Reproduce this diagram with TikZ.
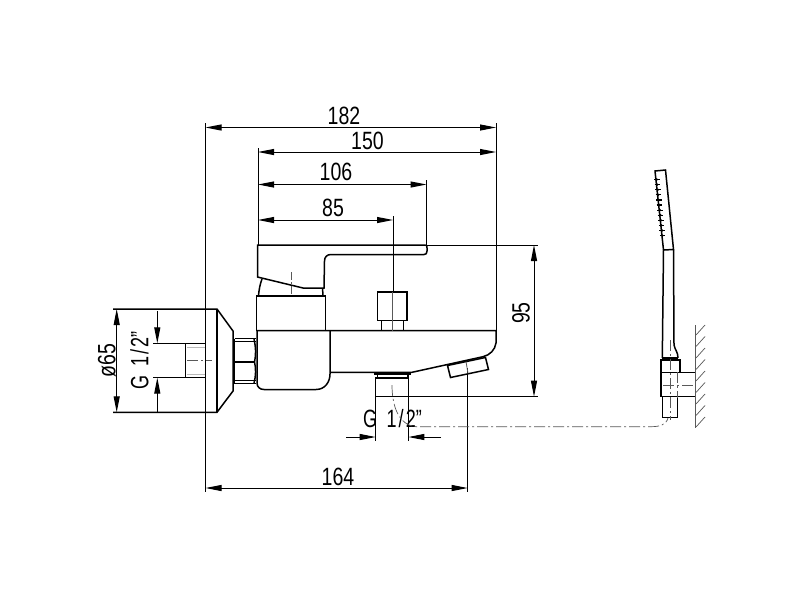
\documentclass[tikz,border=0pt]{standalone}
\usepackage{fontspec}
\setmainfont{Liberation Sans}
\usetikzlibrary{arrows.meta}
\definecolor{cgray}{gray}{0.35}
\newcommand{\dm}[1]{\scalebox{0.78}[1]{\fontsize{25}{25}\selectfont #1}}
\newcommand{\gthread}{\scalebox{0.72}[1]{\fontsize{25}{25}\selectfont G\hspace{13pt}1\hspace{3pt}/\hspace{3pt}2”}}
\tikzset{
  x=1pt,y=-1pt,
  outline/.style={line width=1.5pt,black,line join=miter},
  heavy/.style={line width=2.2pt,black},
  thin line/.style={line width=1pt,black},
  dimline/.style={line width=1pt,black,{Triangle[length=16pt,width=6pt]}-{Triangle[length=16pt,width=6pt]}},
  onehead/.style={line width=1pt,black,-{Triangle[length=16pt,width=6pt]}},
  centre/.style={line width=.7pt,cgray,dash pattern=on 11pt off 3pt on 2pt off 3pt},
  lightline/.style={line width=.8pt,gray!55},
  hatchline/.style={line width=.7pt,black!65},
  dimtext/.style={inner sep=0pt,black}
}
\begin{document}
\begin{tikzpicture}
\useasboundingbox[fill=white] (0,0) rectangle (800,600);
% extension lines
\draw[thin line] (205.5,123) -- (205.5,492);
\draw[thin line] (496,123) -- (496,330);
\draw[thin line] (258,148) -- (258,245);
\draw[thin line] (426.5,180) -- (426.5,245);
\draw[thin line] (393,216) -- (393,292);
\draw[thin line] (427,245) -- (538,245);
\draw[thin line] (408.5,396.7) -- (538,396.7);
\draw[thin line] (467.7,368) -- (467.7,492);
% dimensions
\draw[dimline] (205.5,127.5) -- (496,127.5);
\draw[dimline] (258,152) -- (496,152);
\draw[dimline] (258,184.5) -- (426.5,184.5);
\draw[dimline] (258,220) -- (393,220);
\draw[dimline] (205.5,488) -- (467.7,488);
\draw[dimline] (534,245) -- (534,396.7);
\draw[dimline] (116.7,309) -- (116.7,412.3);
\coordinate (gat) at (157.3,311);
\coordinate (gab) at (157.3,343.3);
\coordinate (gbt) at (157.3,377.7);
\coordinate (gbb) at (157.3,412);
\draw[onehead] (gat) -- (gab);
\draw[onehead] (gbb) -- (gbt);
\coordinate (hl) at (346,437);
\coordinate (hla) at (375.7,437);
\coordinate (hr) at (441,437);
\coordinate (hra) at (408.3,437);
\draw[onehead] (hl) -- (hla);
\draw[onehead] (hr) -- (hra);
\draw[thin line] (375.7,396) -- (375.7,441);
\draw[thin line] (408.3,396) -- (408.3,441);
% texts
\node[dimtext] (t182) at (344,116) {\dm{182}};
\node[dimtext] (t150) at (367.5,141) {\dm{150}};
\node[dimtext] (t106) at (336,172) {\dm{106}};
\node[dimtext] (t85) at (333,208) {\dm{85}};
\node[dimtext] (t164) at (338,477) {\dm{164}};
\node[dimtext,rotate=90] (t95) at (521,313) {\dm{95}};
\node[dimtext,rotate=90] (t65) at (107,360.5) {\dm{ø65}};
\node[dimtext,rotate=90] (tg1) at (139.5,360.5) {\gthread};
\node[dimtext] (tg2) at (392.5,419) {\gthread};
% wall connection, left
\draw[outline] (113,309) -- (217,309) -- (233,331) -- (233,391) -- (217,412.3) -- (113,412.3);
\draw[outline] (217,309) -- (217,412.3);
\draw[outline] (153,343.3) -- (205.5,343.3);
\draw[outline] (153,377.7) -- (205.5,377.7);
\draw[outline] (185.7,343.3) -- (185.7,377.7);
\draw[lightline] (187,347) -- (205,347) (187,374) -- (205,374);
\draw[centre] (187,360.7) -- (212,360.7);
% nut
\draw[outline] (234.5,338.5) -- (256,338.5) (234.5,341.5) -- (256,341.5);
\draw[outline] (234.5,380.5) -- (256,380.5) (234.5,383.5) -- (256,383.5);
\draw[outline] (234.5,338.5) -- (234.5,383.5);
\draw[heavy] (234.5,362) -- (255,362);
\draw[outline] (254,339) .. controls (256,348) and (256,355) .. (254.5,362) .. controls (256,368) and (256,376) .. (254,383);
% lever handle
\draw[outline] (257.5,245) -- (425,245) .. controls (427,245) and (427,246) .. (427,248) -- (427,251)
  .. controls (427,253.5) and (426,254.5) .. (424,254.5) -- (331,254.5)
  .. controls (327,254.5) and (324.5,257) .. (324.5,261) -- (324,288) -- (303,288) -- (257.5,277) -- cycle;
\draw[outline] (262,279) .. controls (260,284) and (259,290) .. (258.5,295.5);
\draw[outline] (322.5,288) -- (323,295.5);
\draw[centre,dash pattern=on 8pt off 2pt on 2pt off 2pt] (291,272) -- (291,296);
% block
\draw[outline] (256.7,331) -- (256.7,296) -- (325.5,296) -- (325.5,331);
% body
\draw[outline] (256.7,330.7) -- (496,330.7) -- (496,343) .. controls (495,350) and (490,355) .. (483,356.7) -- (412,372.3) -- (330,372.3);
\draw[outline] (257,331) -- (257,383) .. controls (257,387) and (260,389.5) .. (264,389.5) -- (316,389.5)
  .. controls (325,389.5) and (330,382) .. (330,374) -- (330,331);
% knob
\draw[outline] (377.7,292) rectangle (407,320.7);
\draw[outline] (381.7,320.7) rectangle (403.3,330.7);
\draw[line width=.8pt,cgray] (392.7,292) -- (392.7,330.7);
% diverter
\draw[outline] (447.5,365.5) -- (485.5,357.5) -- (488.5,369.5) -- (450.5,377.5) -- cycle;
\draw[line width=.8pt,cgray] (466,361.5) -- (468,373.5);
% lower connector
\draw[heavy] (374,373.5) -- (410.7,373.5);
\draw[outline] (377.7,374.5) -- (377.7,378) (408,374.5) -- (408,378);
\draw[outline] (375.7,378) rectangle (408.3,396.5);
% hose line
\draw[centre] (392,385) .. controls (392,405) and (398,425) .. (416,426.7) -- (650,426.7) .. controls (660,426.7) and (666,425) .. (668,418);
% shower head
\draw[outline] (655,171) -- (665.5,170) -- (673.5,249.5) -- (663.5,250) -- cycle;
\draw[outline] (663.5,250) -- (662.3,358);
\draw[outline] (673.5,249.5) -- (674,345) .. controls (675,350) and (678,352) .. (678,358);
\foreach \i in {0,...,11} {
  \draw[line width=1.2pt] ({654+0.53*\i},{179.5+5.1*\i}) -- ({659.5+0.53*\i},{179.5+5.1*\i});
  \fill ({656.7+0.53*\i},{179.5+5.1*\i}) circle (1.3pt);
}
\draw[heavy] (662,358) -- (678,358);
\draw[outline] (661,360) rectangle (680,372.3);
\draw[outline] (661,372.3) rectangle (695.7,396.7);
\draw[outline] (662.3,396.7) rectangle (677.7,417.7);
\draw[centre] (670,340) -- (670,420);
\draw[centre] (663,385) -- (695,385);
\draw[centre] (677,372) -- (677,398);
% wall
\draw[hatchline] (695.7,325) -- (695.7,428);
\foreach \y in {335,346.5,...,430} {
  \draw[hatchline] (696,\y) -- (705,{\y-10});
}
\end{tikzpicture}
\end{document}
